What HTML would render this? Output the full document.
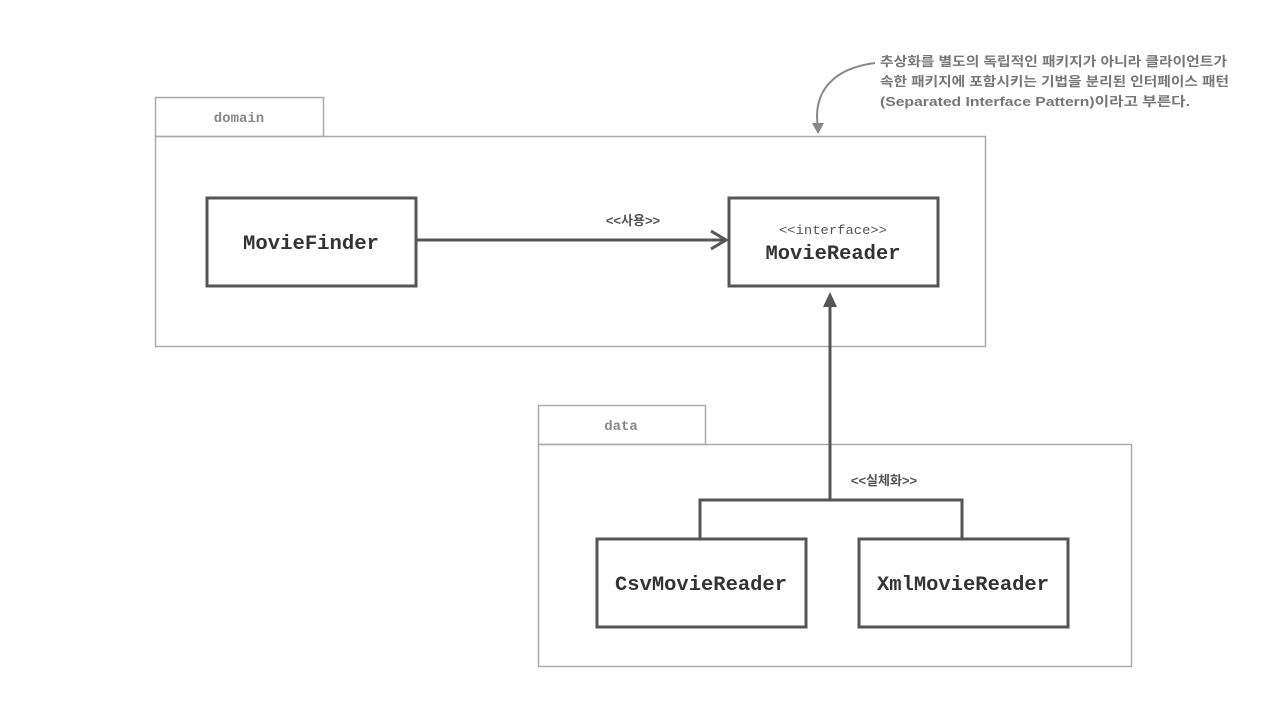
<!DOCTYPE html>
<html><head><meta charset="utf-8"><style>
body{margin:0;background:#fff;width:1268px;height:698px;overflow:hidden}
</style></head><body>
<svg width="1268" height="698" xmlns="http://www.w3.org/2000/svg">
<g fill="none" stroke="#aaa" stroke-width="1.5">
<rect x="155.5" y="97.5" width="168" height="39"/>
<rect x="155.5" y="136.5" width="830" height="210"/>
<rect x="538.5" y="405.5" width="167" height="39"/>
<rect x="538.5" y="444.5" width="593" height="222"/>
</g>
<g font-family="Liberation Mono, monospace" font-weight="bold" fill="#888" font-size="14">
<text x="239" y="122" text-anchor="middle">domain</text>
<text x="621" y="430" text-anchor="middle">data</text>
</g>
<g fill="#fff" stroke="#555" stroke-width="3">
<rect x="207" y="198" width="209" height="88"/>
<rect x="729" y="198" width="209" height="88"/>
<rect x="597" y="539" width="209" height="88"/>
<rect x="859" y="539" width="209" height="88"/>
</g>
<g stroke="#555" stroke-width="3" fill="none">
<line x1="416" y1="240" x2="726" y2="240"/>
<polyline points="711,231 726,240 711,249"/>
<line x1="830" y1="305" x2="830" y2="500"/>
<polyline points="700,539 700,500 962,500 962,539"/>
</g>
<polygon points="830,292 823,307 837,307" fill="#555"/>
<path d="M875,63 C835,68 812,90 818,128" stroke="#888" stroke-width="2" fill="none"/>
<polygon points="812,123 824,123 818,134" fill="#888"/>
<g font-family="Liberation Mono, monospace" font-weight="bold" fill="#333" font-size="20" text-anchor="middle">
<text x="311" y="249" textLength="136" lengthAdjust="spacingAndGlyphs">MovieFinder</text>
<text x="833" y="259" textLength="135" lengthAdjust="spacingAndGlyphs">MovieReader</text>
<text x="701" y="590" textLength="172" lengthAdjust="spacingAndGlyphs">CsvMovieReader</text>
<text x="963" y="590" textLength="172" lengthAdjust="spacingAndGlyphs">XmlMovieReader</text>
</g>
<text x="833" y="234" font-family="Liberation Mono, monospace" font-size="13" fill="#555" text-anchor="middle" textLength="108" lengthAdjust="spacingAndGlyphs">&lt;&lt;interface&gt;&gt;</text>
<g font-family="Liberation Sans, 'Noto Sans CJK KR', sans-serif" font-weight="bold" fill="#555" font-size="13">
<text x="633" y="225" text-anchor="middle">&lt;&lt;사용&gt;&gt;</text>
<text x="884" y="485" text-anchor="middle">&lt;&lt;실체화&gt;&gt;</text>
</g>
<g font-family="Liberation Sans, 'Noto Sans CJK KR', sans-serif" font-weight="bold" fill="#777" font-size="13">
<text x="880" y="66" textLength="347" lengthAdjust="spacingAndGlyphs">추상화를 별도의 독립적인 패키지가 아니라 클라이언트가</text>
<text x="880" y="86" textLength="349" lengthAdjust="spacingAndGlyphs">속한 패키지에 포함시키는 기법을 분리된 인터페이스 패턴</text>
<text x="880" y="106" textLength="310" lengthAdjust="spacingAndGlyphs">(Separated Interface Pattern)이라고 부른다.</text>
</g>
</svg>
</body></html>
